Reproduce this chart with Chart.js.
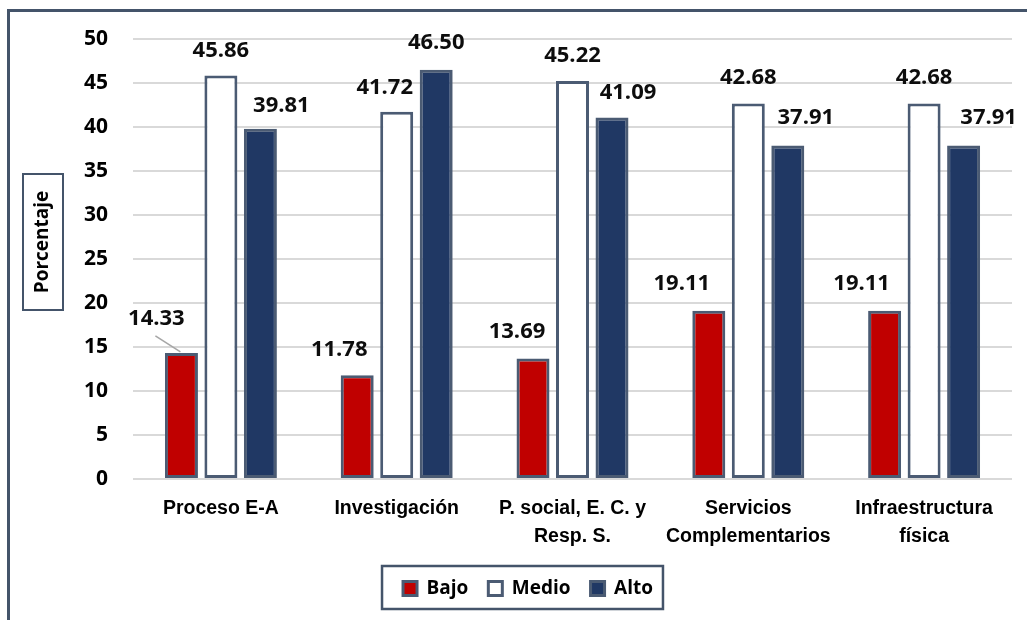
<!DOCTYPE html>
<html>
<head>
<meta charset="utf-8">
<script src="https://cdn.jsdelivr.net/npm/chart.js@4/dist/chart.umd.min.js"></script>
<style>
  html, body { margin: 0; padding: 0; background: #ffffff; }
  #wrap { width: 1027px; height: 620px; position: relative; }
</style>
</head>
<body>
<div id="wrap"><canvas id="chart"></canvas></div>
<script>
// categorías y valores
const categories = [
    ["Proceso E-A"],
    ["Investigación"],
    ["P. social, E. C. y", "Resp. S."],
    ["Servicios", "Complementarios"],
    ["Infraestructura", "física"]
];
const seriesNames = ["Bajo", "Medio", "Alto"];
const bajo = [14.33, 11.78, 13.69, 19.11, 19.11];
const medio = [45.86, 41.72, 45.22, 42.68, 42.68];
const alto = [39.81, 46.50, 41.09, 37.91, 37.91];
const yTicks = [0, 5, 10, 15, 20, 25, 30, 35, 40, 45, 50];

// colores
const colors = ["#C00000", "#FFFFFF", "#203864"];
const edge = "#4B5B73";
const frame = "#44546A";

// desplazamiento de etiquetas respecto al tope de la barra (dx, dy)
const labelOffsets = [
    [[-25, -34], [-18, -26], [-16, -27], [-27, -27], [-23, -27]],
    [[0, -25], [-12, -24], [0, -25], [0, -26], [0, -26]],
    [[21, -23], [0, -27], [16, -25], [18, -28], [25, -28]]
];

const mainFamily = "'Open Sans', Lato, sans-serif";
const labelFont = "bold 22px " + mainFamily;

// etiquetas de datos + línea guía
const dataLabels = {
    id: "dataLabels",
    afterDatasetsDraw(chart) {
        const ctx = chart.ctx;
        ctx.save();
        ctx.font = labelFont;
        ctx.fillStyle = "#0D0D0D";
        ctx.textAlign = "center";
        ctx.textBaseline = "middle";
        chart.data.datasets.forEach((ds, di) => {
            chart.getDatasetMeta(di).data.forEach((bar, i) => {
                const [dx, dy] = labelOffsets[di][i];
                ctx.fillText(ds.data[i].toFixed(2), bar.x + dx, bar.y + dy);
            });
        });
        // línea guía de 14.33
        const b0 = chart.getDatasetMeta(0).data[0];
        ctx.strokeStyle = "#A6A6A6";
        ctx.lineWidth = 1.5;
        ctx.beginPath();
        ctx.moveTo(b0.x - 26, b0.y - 17);
        ctx.lineTo(b0.x - 1, b0.y - 1);
        ctx.stroke();
        ctx.restore();
    }
};

// marco, título del eje y borde de la leyenda
const decorations = {
    id: "decorations",
    afterDraw(chart) {
        const ctx = chart.ctx;
        ctx.save();
        ctx.strokeStyle = frame;
        ctx.lineWidth = 3;
        ctx.beginPath();
        ctx.moveTo(8.5, 625);
        ctx.lineTo(8.5, 10.5);
        ctx.lineTo(1030, 10.5);
        ctx.stroke();

        // título eje Y
        ctx.lineWidth = 2;
        ctx.strokeRect(23, 174, 40, 136);
        ctx.translate(43, 242);
        ctx.rotate(-Math.PI / 2);
        ctx.font = "bold 19px " + mainFamily;
        ctx.fillStyle = "#000000";
        ctx.textAlign = "center";
        ctx.textBaseline = "middle";
        ctx.fillText("Porcentaje", 0, 0);
        ctx.setTransform(1, 0, 0, 1, 0, 0);

        // caja de la leyenda
        const boxes = chart.legend.legendHitBoxes;
        if (boxes && boxes.length) {
            const l = Math.min(...boxes.map(b => b.left));
            const r = Math.max(...boxes.map(b => b.left + b.width));
            const t = Math.min(...boxes.map(b => b.top));
            const btm = Math.max(...boxes.map(b => b.top + b.height));
            ctx.lineWidth = 2.5;
            ctx.strokeStyle = frame;
            ctx.strokeRect(l - 21, t - 13, (r - l) + 31, (btm - t) + 24);
        }
        ctx.restore();
    }
};

const datasets = [bajo, medio, alto].map((vals, k) => ({
    label: seriesNames[k],
    data: vals,
    backgroundColor: colors[k],
    borderColor: edge,
    borderWidth: 3,
    borderSkipped: false,
    categoryPercentage: 0.674,
    barPercentage: 0.835
}));

const canvas = document.getElementById("chart");
canvas.width = 1027;
canvas.height = 620;

new Chart(canvas, {
    type: "bar",
    data: { labels: categories, datasets: datasets },
    options: {
        responsive: false,
        animation: false,
        devicePixelRatio: 1,
        layout: { padding: { left: 44, right: 15, top: 39, bottom: 12 } },
        scales: {
            x: {
                grid: { display: false },
                border: { display: false },
                ticks: {
                    color: "#000000",
                    padding: 8,
                    autoSkip: false,
                    maxRotation: 0,
                    font: { family: "'Liberation Sans', Arial, sans-serif", size: 19.5, weight: "bold", lineHeight: 1.42 }
                },
                afterFit(scale) { scale.height = 80; }
            },
            y: {
                min: 0,
                max: 50,
                afterBuildTicks(scale) { scale.ticks = yTicks.map(v => ({ value: v })); },
                grid: { color: "#D9D9D9", lineWidth: 2, drawTicks: false },
                border: { display: false },
                ticks: {
                    color: "#000000",
                    padding: 25,
                    font: { family: mainFamily, size: 21, weight: "bold" }
                },
                afterFit(scale) { scale.width = 89; }
            }
        },
        plugins: {
            legend: {
                position: "bottom",
                labels: {
                    color: "#000000",
                    boxWidth: 14,
                    boxHeight: 14,
                    padding: 20,
                    font: { family: mainFamily, size: 19, weight: "bold" }
                }
            },
            tooltip: { enabled: false }
        }
    },
    plugins: [dataLabels, decorations]
});
</script>
</body>
</html>
